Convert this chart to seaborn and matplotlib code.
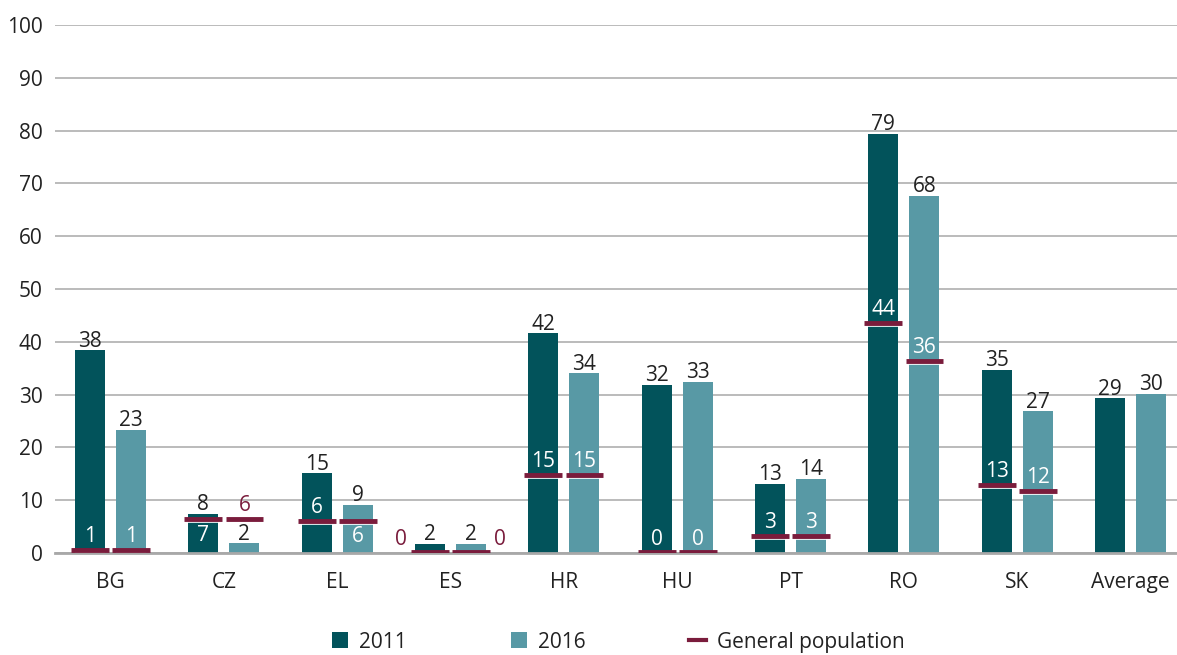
import matplotlib
matplotlib.use("Agg")
import matplotlib.pyplot as plt
from matplotlib.patches import Patch
from matplotlib.lines import Line2D
import seaborn as sns
import pandas as pd
import numpy as np

# Dados
countries = ['BG', 'CZ', 'EL', 'ES', 'HR', 'HU', 'PT', 'RO', 'SK', 'Average']
val_2011 = [38.4, 7.4, 15.1, 1.7, 41.6, 31.8, 13.1, 79.4, 34.7, 29.3]
val_2016 = [23.3, 1.8, 9.1, 1.7, 34.0, 32.4, 14.1, 67.7, 26.8, 30.2]
lbl_2011 = ['38', '8', '15', '2', '42', '32', '13', '79', '35', '29']
lbl_2016 = ['23', '2', '9', '2', '34', '33', '14', '68', '27', '30']

# Populacao geral (linhas)
gp_2011 = [0.6, 6.4, 6.1, 0.1, 14.8, 0.1, 3.2, 43.6, 12.9, np.nan]
gp_2016 = [0.6, 6.4, 6.1, 0.1, 14.8, 0.1, 3.2, 36.4, 11.7, np.nan]
gp_lbl_2011 = ['1', '7', '6', '0', '15', '0', '3', '44', '13', '']
gp_lbl_2016 = ['1', '6', '6', '0', '15', '0', '3', '36', '12', '']

C2011 = '#02535b'
C2016 = '#5899a5'
CGP = '#7a1c3c'
TXT = '#222222'
FS = 15

plt.rcParams['font.family'] = ['Open Sans', 'DejaVu Sans']

df = pd.DataFrame({
    'country': countries * 2,
    'year': ['2011'] * len(countries) + ['2016'] * len(countries),
    'value': val_2011 + val_2016,
})

fig = plt.figure(figsize=(11.77, 6.55), dpi=100)
ax = fig.add_axes([55 / 1177, 102 / 655, 1 - 55 / 1177, 528 / 655])

sns.barplot(data=df, x='country', y='value', hue='year', order=countries,
            hue_order=['2011', '2016'], palette=[C2011, C2016], saturation=1,
            width=0.726, gap=0.27, legend=False, ax=ax)

ax.set_ylim(0, 100)
ax.set_xlim(-0.49, 9.41)
ax.set_yticks(range(0, 101, 10))
ax.grid(axis='y', color='#a8a8a8', linewidth=1.1)
ax.set_axisbelow(True)
for s in ['top', 'right', 'left']:
    ax.spines[s].set_visible(False)
ax.spines['bottom'].set_color('#a8a8a8')
ax.spines['bottom'].set_linewidth(2)
ax.tick_params(axis='y', length=0, pad=9, labelsize=FS, labelcolor=TXT)
ax.tick_params(axis='x', length=0, pad=14, labelsize=FS, labelcolor=TXT)
ax.set_xlabel('')
ax.set_ylabel('')

n = len(countries)
bars = ax.patches
bars_2011 = bars[:n]
bars_2016 = bars[n:2 * n]

# rotulos acima das barras
for grp, labels in [(bars_2011, lbl_2011), (bars_2016, lbl_2016)]:
    for b, t in zip(grp, labels):
        cx = b.get_x() + b.get_width() / 2
        ax.annotate(t, (cx, b.get_height()), xytext=(0, -1), textcoords='offset points',
                    ha='center', va='bottom', fontsize=FS, color=TXT)

# linhas da populacao geral + rotulos
special = {
    (1, 0): ('below', 'white'),
    (1, 1): ('above', CGP),
    (2, 1): ('below', 'white'),
    (3, 0): ('left', CGP),
    (3, 1): ('right', CGP),
}
for k, (grp, gvals, glbls) in enumerate([(bars_2011, gp_2011, gp_lbl_2011),
                                         (bars_2016, gp_2016, gp_lbl_2016)]):
    for i, (b, g, t) in enumerate(zip(grp, gvals, glbls)):
        if np.isnan(g):
            continue
        x0 = b.get_x()
        w = b.get_width()
        ext = w * 0.13
        ax.hlines(g, x0 - ext, x0 + w + ext, color=CGP, linewidth=3.5,
                  capstyle='butt', zorder=4)
        ax.hlines(g - 0.6, x0, x0 + w, color='white', linewidth=1.2,
                  capstyle='butt', zorder=3)
        cx = x0 + w / 2
        pos, col = special.get((i, k), ('above', 'white'))
        if pos == 'above':
            ax.annotate(t, (cx, g), xytext=(0, 2), textcoords='offset points',
                        ha='center', va='bottom', fontsize=FS, color=col, zorder=5)
        elif pos == 'below':
            ax.annotate(t, (cx, g), xytext=(0, -4), textcoords='offset points',
                        ha='center', va='top', fontsize=FS, color=col, zorder=5)
        elif pos == 'left':
            ax.annotate(t, (x0 - ext, g), xytext=(-3, 2), textcoords='offset points',
                        ha='right', va='bottom', fontsize=FS, color=col, zorder=5)
        else:
            ax.annotate(t, (x0 + w + ext, g), xytext=(3, 2), textcoords='offset points',
                        ha='left', va='bottom', fontsize=FS, color=col, zorder=5)

handles = [
    Patch(facecolor=C2011, label='2011'),
    Patch(facecolor=C2016, label='2016'),
    Line2D([0], [0], color=CGP, linewidth=3, label='General population'),
]
fig.legend(handles=handles, loc='lower center', ncol=3, frameon=False,
           bbox_to_anchor=(0.525, -0.025), fontsize=FS, handlelength=0.8,
           handleheight=0.8, handletextpad=0.5, columnspacing=5.0,
           labelcolor=TXT)

fig.savefig('out.png', dpi=100)
